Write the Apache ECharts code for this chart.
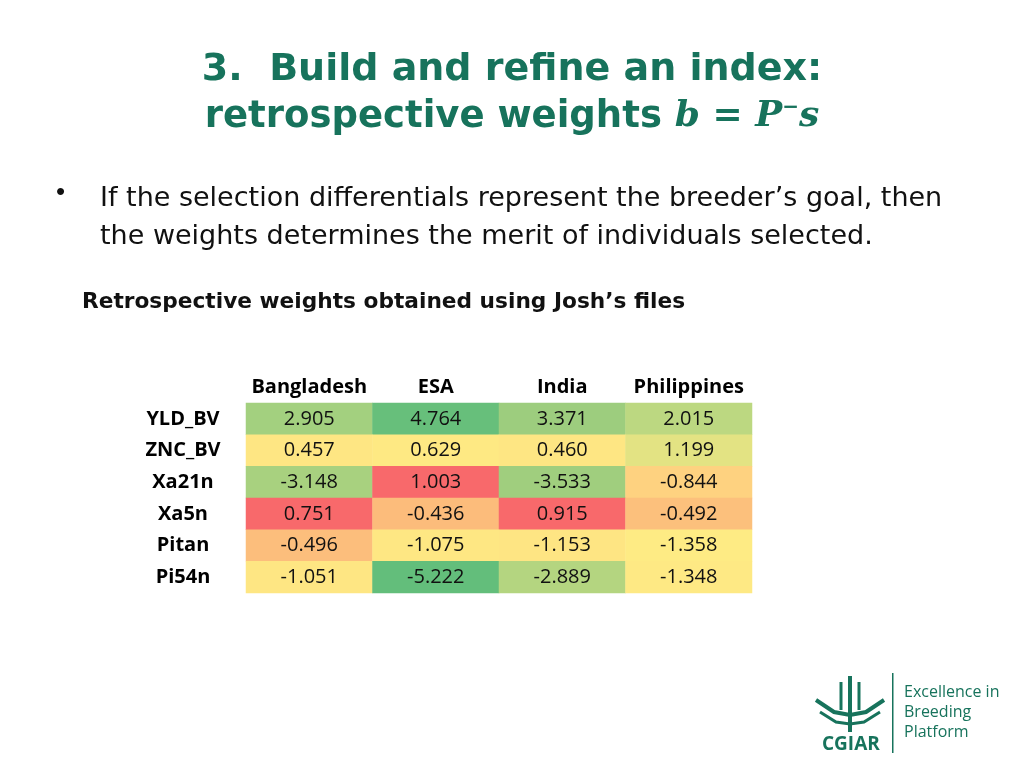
<!DOCTYPE html>
<html><head><meta charset="utf-8">
<script src="https://cdn.jsdelivr.net/npm/echarts@6/dist/echarts.min.js"></script>
<style>html,body{margin:0;padding:0;background:#fff}#c{width:1024px;height:768px}</style>
</head><body><div id="c"></div>
<script>
const regions = ["Bangladesh", "ESA", "India", "Philippines"];
const traits = ["YLD_BV", "ZNC_BV", "Xa21n", "Xa5n", "Pitan", "Pi54n"];
const bangladesh = [2.905, 0.457, -3.148, 0.751, -0.496, -1.051];
const esa = [4.764, 0.629, 1.003, -0.436, -1.075, -5.222];
const india = [3.371, 0.460, -3.533, 0.915, -1.153, -2.889];
const philippines = [2.015, 1.199, -0.844, -0.492, -1.358, -1.348];
const columns = [bangladesh, esa, india, philippines];

// cell fill colours (row-major by trait, then region)
const cellColors = [
  ["#a3d07f", "#67bf7b", "#9dcd7e", "#bcd881"],
  ["#fee683", "#fee983", "#fee683", "#e3e383"],
  ["#a8d17f", "#f8696b", "#a0ce7e", "#fed280"],
  ["#f8696b", "#fcbc7b", "#f8696b", "#fcc07c"],
  ["#fcbe7c", "#fee783", "#fee583", "#feeb84"],
  ["#fee683", "#63be7b", "#b4d580", "#fee984"]
];

const data = [];
traits.forEach((t, r) => {
  columns.forEach((col, c) => {
    data.push({ value: [c, r, col[r]], itemStyle: { color: cellColors[r][c] } });
  });
});

const green = "#17735c";
const chart = echarts.init(document.getElementById('c'));
chart.setOption({
  animation: false,
  title: [{
    text: "3.  Build and refine an index:",
    left: "center", top: 46,
    textStyle: { fontFamily: "DejaVu Sans", fontWeight: "bold", fontSize: 38, color: green }
  }, {
    text: "{a|retrospective weights }{m|b = P}{s|−}{m|s}",
    left: "center", top: 93,
    textStyle: { rich: {
      a: { fontFamily: "DejaVu Sans", fontWeight: "bold", fontSize: 37, color: green },
      m: { fontFamily: "DejaVu Serif", fontStyle: "italic", fontWeight: "bold", fontSize: 36, color: green },
      s: { fontFamily: "DejaVu Sans", fontWeight: "bold", fontSize: 20, color: green, verticalAlign: "top", padding: [0,0,18,0] }
    } }
  }],
  graphic: [
    { type: "text", left: 56, top: 180, style: { text: "•", fontSize: 26, fontFamily: "Liberation Sans", fill: "#111" } },
    { type: "text", left: 100, top: 180, style: { text: "If the selection differentials represent the breeder’s goal, then\nthe weights determines the merit of individuals selected.", fontSize: 27, lineHeight: 38, fontFamily: "DejaVu Sans", fill: "#111" } },
    { type: "text", left: 82, top: 291, style: { text: "Retrospective weights obtained using Josh’s files", fontSize: 21.7, fontWeight: "bold", fontFamily: "DejaVu Sans", fill: "#111" } },
    { type: "text", left: 822, top: 735, style: { text: "CGIAR", fontSize: 19, fontWeight: "bold", fontFamily: "Open Sans", fill: green } },
    { type: "rect", shape: { x: 892, y: 673, width: 1.5, height: 80 }, style: { fill: green } },
    { type: "text", left: 904, top: 682, style: { text: "Excellence in\nBreeding\nPlatform", fontSize: 16, lineHeight: 20, fontFamily: "Open Sans", fill: green } },
    { type: "polyline", shape: { points: [[816,700],[834,712],[850,715],[866,712],[884,700]] }, style: { stroke: green, lineWidth: 4, fill: null } },
    { type: "polyline", shape: { points: [[820,712],[836,722],[850,724],[864,722],[880,712]] }, style: { stroke: green, lineWidth: 3, fill: null } },
    { type: "line", shape: { x1: 850, y1: 676, x2: 850, y2: 732 }, style: { stroke: green, lineWidth: 4 } },
    { type: "line", shape: { x1: 841, y1: 682, x2: 841, y2: 710 }, style: { stroke: green, lineWidth: 3 } },
    { type: "line", shape: { x1: 859, y1: 682, x2: 859, y2: 710 }, style: { stroke: green, lineWidth: 3 } }
  ],
  grid: { left: 246, top: 403, width: 506, height: 190 },
  xAxis: { type: "category", data: regions, position: "top",
    axisLine: { show: false }, axisTick: { show: false },
    axisLabel: { interval: 0, fontFamily: "Open Sans", fontWeight: "bold", fontSize: 20, color: "#000", margin: 6 } },
  yAxis: { type: "category", data: traits, inverse: true,
    axisLine: { show: false }, axisTick: { show: false },
    axisLabel: { interval: 0, fontFamily: "Open Sans", fontWeight: "bold", fontSize: 20, color: "#000", margin: 63, align: "center" } },
  series: [{
    type: "heatmap", data: data,
    label: { show: true, fontFamily: "Open Sans", fontSize: 20, color: "#111",
      formatter: p => p.value[2].toFixed(3) },
    itemStyle: { borderWidth: 0 }
  }]
});
</script></body></html>
